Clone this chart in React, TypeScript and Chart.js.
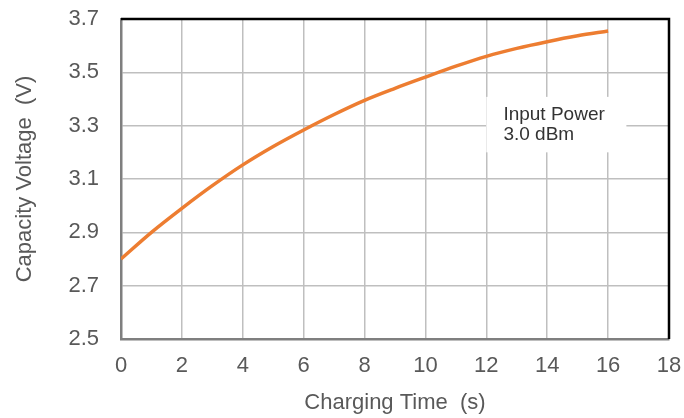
import { useEffect, useRef } from 'react';
import { Chart, registerables } from 'chart.js';

Chart.register(...registerables);

// Data
const chargingTime = [0, 1, 2, 3, 4, 5, 6, 7, 8, 9, 10, 11, 12, 13, 14, 15, 16];
const capacityVoltage = [2.80, 2.90, 2.99, 3.075, 3.153, 3.222, 3.284, 3.342, 3.395, 3.44, 3.482, 3.523, 3.56, 3.59, 3.615, 3.637, 3.655];
const xTickValues = [0, 2, 4, 6, 8, 10, 12, 14, 16, 18];
const yTickValues = [2.5, 2.7, 2.9, 3.1, 3.3, 3.5, 3.7];
const annotationLines = ['Input Power', '3.0 dBm'];
// annotation placement in data units (x seconds, y volts)
const annotationBox = { x0: 12.0, x1: 16.6, y0: 3.2, y1: 3.408 };
const annotationText = { x: 12.56, y: [3.323, 3.245] };

const FONT = '"Liberation Sans", Arial, sans-serif';
const TEXT = '#595959';

const framePlugin = {
  id: 'frame',
  beforeDatasetsDraw(chart: any) {
    const { ctx, scales } = chart;
    const x = scales.x;
    const y = scales.y;
    ctx.save();
    const l = x.getPixelForValue(annotationBox.x0);
    const r = x.getPixelForValue(annotationBox.x1);
    const t = y.getPixelForValue(annotationBox.y1);
    const b = y.getPixelForValue(annotationBox.y0);
    ctx.fillStyle = '#ffffff';
    ctx.fillRect(l, t, r - l, b - t);
    ctx.fillStyle = '#333333';
    ctx.font = `19px ${FONT}`;
    ctx.textAlign = 'left';
    ctx.textBaseline = 'alphabetic';
    annotationLines.forEach((line, i) => {
      ctx.fillText(line, x.getPixelForValue(annotationText.x), y.getPixelForValue(annotationText.y[i]));
    });
    ctx.restore();
  },
  afterDatasetsDraw(chart: any) {
    const { ctx, chartArea } = chart;
    ctx.save();
    ctx.strokeStyle = '#000000';
    ctx.lineWidth = 2.5;
    ctx.beginPath();
    ctx.moveTo(chartArea.left, chartArea.top);
    ctx.lineTo(chartArea.right, chartArea.top);
    ctx.lineTo(chartArea.right, chartArea.bottom);
    ctx.stroke();
    ctx.restore();
  },
};

export default function App() {
  const ref = useRef<HTMLCanvasElement | null>(null);
  useEffect(() => {
    if (!ref.current) return;
    const chart = new Chart(ref.current, {
      type: 'line',
      data: {
        datasets: [
          {
            data: chargingTime.map((t, i) => ({ x: t, y: capacityVoltage[i] })),
            borderColor: '#ED7D31',
            borderWidth: 3.5,
            pointRadius: 0,
            fill: false,
            cubicInterpolationMode: 'monotone',
          },
        ],
      },
      options: {
        responsive: false,
        animation: false,
        layout: { padding: { left: 12, top: 19, right: 15, bottom: 2 } },
        plugins: { legend: { display: false }, tooltip: { enabled: false } },
        scales: {
          x: {
            type: 'linear',
            min: 0,
            max: 18,
            afterBuildTicks: (axis: any) => {
              axis.ticks = xTickValues.map((v) => ({ value: v }));
            },
            afterFit: (axis: any) => {
              axis.height = 77;
              axis.paddingLeft = 0;
              axis.paddingRight = 0;
            },
            grid: { color: '#bfbfbf', lineWidth: 1.5, drawTicks: false },
            border: { color: '#7f7f7f', width: 2.5 },
            ticks: { padding: 14, color: TEXT, font: { family: FONT, size: 22 }, maxRotation: 0, autoSkip: false },
            title: {
              display: true,
              text: 'Charging Time  (s)',
              color: TEXT,
              font: { family: FONT, size: 22 },
              padding: 0,
            },
          },
          y: {
            min: 2.5,
            max: 3.7,
            afterBuildTicks: (axis: any) => {
              axis.ticks = yTickValues.map((v) => ({ value: v }));
            },
            afterFit: (axis: any) => {
              axis.width = 109;
              axis.paddingTop = 0;
              axis.paddingBottom = 0;
            },
            grid: { color: '#bfbfbf', lineWidth: 1.5, drawTicks: false },
            border: { color: '#7f7f7f', width: 2.5 },
            ticks: {
              padding: 22,
              color: TEXT,
              font: { family: FONT, size: 22 },
              callback: (v: any) => Number(v).toFixed(1),
            },
            title: {
              display: true,
              text: 'Capacity Voltage  (V)',
              color: TEXT,
              font: { family: FONT, size: 22 },
              padding: 0,
            },
          },
        },
      },
      plugins: [framePlugin],
    } as any);
    return () => chart.destroy();
  }, []);
  return (
    <div style={{ position: 'fixed', left: 0, top: 0, width: 684, height: 418, background: '#fff' }}>
      <canvas ref={ref} width={684} height={418} style={{ display: 'block' }} />
    </div>
  );
}
